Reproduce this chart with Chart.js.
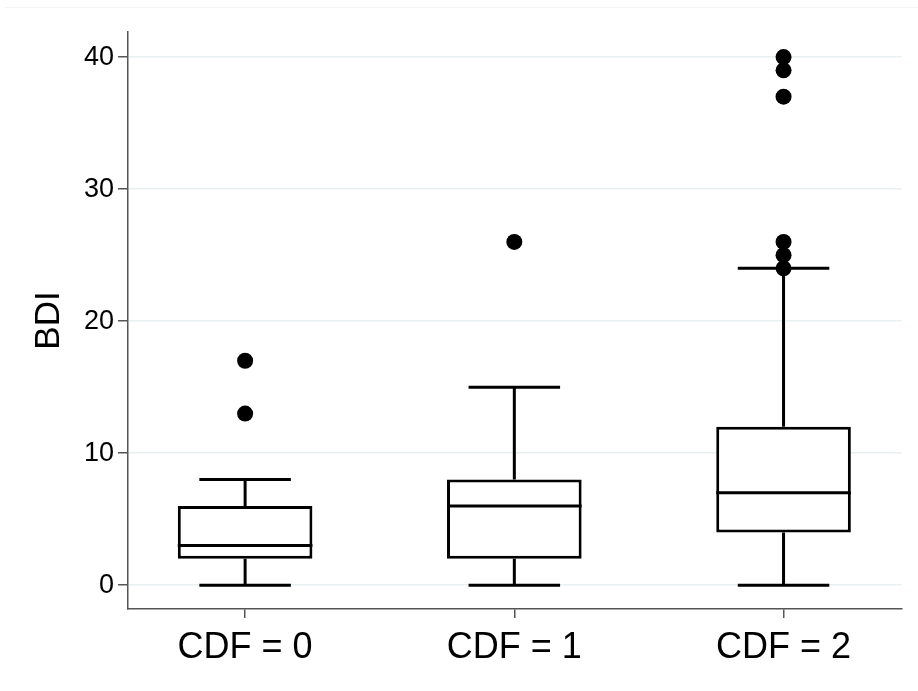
<!DOCTYPE html>
<html>
<head>
<meta charset="utf-8">
<script src="https://cdn.jsdelivr.net/npm/chart.js@4/dist/chart.umd.min.js"></script>
<style>
  html, body { margin: 0; padding: 0; background: #fff; }
  #wrap { position: relative; width: 918px; height: 691px; }
  #wrap:before { content: ''; position: absolute; left: 5px; right: 0; top: 7px; border-top: 1px solid #f1f5f5; }
</style>
</head>
<body>
<div id="wrap"><canvas id="chart" width="918" height="691"></canvas></div>
<script>
// Box plot data
const categories = ['CDF = 0', 'CDF = 1', 'CDF = 2'];
const whiskerLow = [0, 0, 0];
const q1 = [2, 2, 4];
const median = [3, 6, 7];
const q3 = [6, 8, 12];
const whiskerHigh = [8, 15, 24];
const outliers = [
    [13, 17],
    [26],
    [24, 25, 26, 37, 39, 40]
];
const yTicks = [0, 10, 20, 30, 40];

const FONT = "'Liberation Sans', Arial, Helvetica, sans-serif";
const CAP = 0.17; // whisker cap half width, in category units

// draws whiskers, caps and medians on top of the box bars
const boxParts = {
    id: 'boxParts',
    afterDatasetsDraw(chart) {
        const x = chart.scales.x, y = chart.scales.y;
        const ctx = chart.ctx;
        ctx.save();
        ctx.strokeStyle = '#000';
        ctx.lineWidth = 3;
        ctx.lineCap = 'butt';
        categories.forEach((c, i) => {
            const cx = x.getPixelForValue(i);
            const half = chart.getDatasetMeta(0).data[i].width / 2;
            const l = x.getPixelForValue(i - CAP), r = x.getPixelForValue(i + CAP);
            ctx.beginPath();
            // whiskers
            ctx.moveTo(cx, y.getPixelForValue(q3[i]));
            ctx.lineTo(cx, y.getPixelForValue(whiskerHigh[i]));
            ctx.moveTo(cx, y.getPixelForValue(q1[i]));
            ctx.lineTo(cx, y.getPixelForValue(whiskerLow[i]));
            // caps
            ctx.moveTo(l, y.getPixelForValue(whiskerHigh[i]));
            ctx.lineTo(r, y.getPixelForValue(whiskerHigh[i]));
            ctx.moveTo(l, y.getPixelForValue(whiskerLow[i]));
            ctx.lineTo(r, y.getPixelForValue(whiskerLow[i]));
            // median
            ctx.moveTo(cx - half, y.getPixelForValue(median[i]));
            ctx.lineTo(cx + half, y.getPixelForValue(median[i]));
            ctx.stroke();
        });
        ctx.restore();
    }
};

const outlierPoints = [];
outliers.forEach((list, i) => list.forEach(v => outlierPoints.push({ x: i, y: v })));

const ctx = document.getElementById('chart').getContext('2d');
new Chart(ctx, {
    type: 'bar',
    data: {
        datasets: [
            {
                type: 'bar',
                data: categories.map((c, i) => ({ x: i, y: [q1[i], q3[i]] })),
                backgroundColor: '#fff',
                borderColor: '#000',
                borderWidth: 3,
                borderSkipped: false,
                categoryPercentage: 1,
                barPercentage: 0.5
            },
            {
                type: 'scatter',
                data: outlierPoints,
                pointRadius: 8,
                pointBackgroundColor: '#000',
                pointBorderWidth: 0
            }
        ]
    },
    options: {
        responsive: false,
        animation: false,
        layout: { padding: { left: 0, top: 32, right: 16, bottom: 0 } },
        plugins: { legend: { display: false }, tooltip: { enabled: false } },
        scales: {
            x: {
                type: 'linear',
                offset: false,
                min: -0.435,
                max: 2.44,
                afterBuildTicks: s => { s.ticks = categories.map((c, i) => ({ value: i })); },
                afterFit: s => { s.height = 82; },
                ticks: {
                    callback: v => categories[v],
                    color: '#000',
                    font: { family: FONT, size: 36 },
                    padding: 8,
                    maxRotation: 0
                },
                grid: { offset: false, drawOnChartArea: false, drawTicks: true, tickLength: 9, tickColor: '#555', lineWidth: 1.5 },
                border: { display: true, color: '#555', width: 1.5 }
            },
            y: {
                type: 'linear',
                min: -1.8,
                max: 41.9,
                afterBuildTicks: s => { s.ticks = yTicks.map(v => ({ value: v })); },
                afterFit: s => { s.width = 128; },
                ticks: {
                    color: '#000',
                    font: { family: FONT, size: 27 },
                    padding: 4
                },
                grid: { color: '#e8f0f1', lineWidth: 1.5, tickLength: 10, tickColor: '#555' },
                border: { display: true, color: '#555', width: 1.5 },
                title: {
                    display: true,
                    text: 'BDI',
                    color: '#000',
                    font: { family: FONT, size: 35 },
                    padding: { top: 28, bottom: 0 }
                }
            }
        }
    },
    plugins: [boxParts]
});
</script>
</body>
</html>
